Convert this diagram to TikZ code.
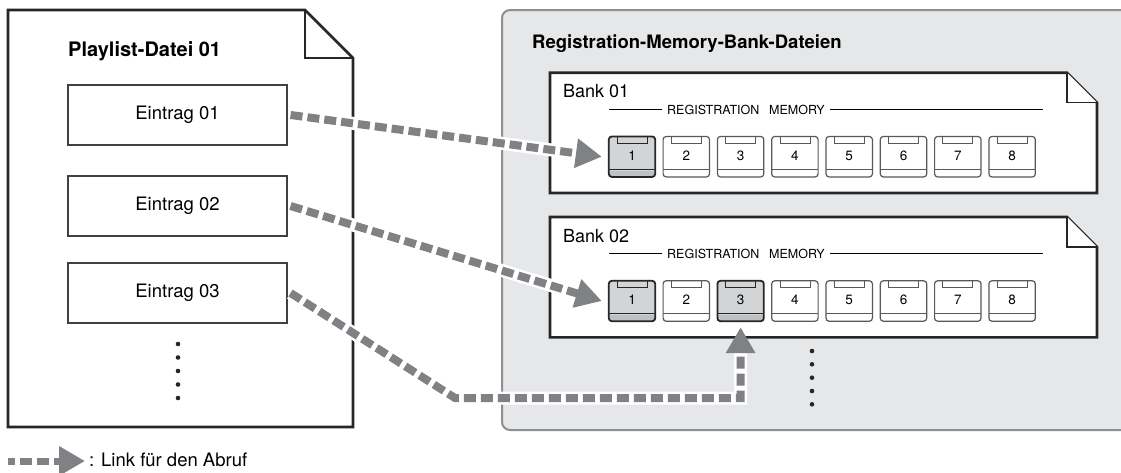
\documentclass[tikz,border=0pt]{standalone}
\usepackage{fontspec}
\setmainfont{TeX Gyre Heros}
\usetikzlibrary{arrows.meta,calc}
\definecolor{panelgray}{HTML}{E6E7E8}
\definecolor{panelborder}{HTML}{8E8F91}
\definecolor{selgray}{HTML}{D3D4D6}
\definecolor{selstrip}{HTML}{BFC0C2}
\definecolor{arrowgray}{HTML}{808184}
\newcommand\fsz[1]{\fontsize{#1pt}{#1pt}\selectfont}
\tikzset{
 docline/.style={line width=2.6pt, draw=black!85, line join=miter},
 foldline/.style={line width=1.2pt, draw=black!85},
 entrybox/.style={draw=black!75, line width=1.1pt, fill=white, minimum width=219pt, minimum height=60pt, font=\fsz{18.5}, inner sep=0pt},
 btn/.style={rectangle, rounded corners=3pt, minimum width=46pt, minimum height=40pt, inner sep=0pt},
 txt/.style={inner sep=0pt},
 linkhalo/.style={draw=white, line width=13pt},
 link/.style={draw=arrowgray, line width=8pt, dash pattern=on 12pt off 5pt, -{Triangle[length=26pt,width=28pt]}},
 dotmark/.style={fill=black!85},
}
\newcommand\regbtn[5]{%
  \ifnum#5=1 \def\bfill{selgray}\def\bstrip{selstrip}\def\bdraw{black!85}\def\blw{1.8pt}%
  \else \def\bfill{white}\def\bstrip{white}\def\bdraw{black!65}\def\blw{1.2pt}\fi
  \node[btn, fill=\bfill] (#1) at (#2,#3) {};
  \fill[\bstrip, rounded corners=3pt] (#1.south west) rectangle ([yshift=8pt]#1.south east);
  \fill[\bfill] ([yshift=6pt]#1.south west) rectangle ([yshift=8pt]#1.south east);
  \draw[\bdraw, line width=0.8pt] ([yshift=8pt]#1.south west) -- ([yshift=8pt]#1.south east);
  \draw[\bdraw, line width=0.8pt] ([xshift=-15pt]#1.north) rectangle ([xshift=15pt,yshift=-6.5pt]#1.north);
  \draw[\bdraw, line width=\blw, rounded corners=3pt] (#1.south west) rectangle (#1.north east);
  \node[txt, font=\fsz{13.5}] (#1n) at ([yshift=1pt]#1.center) {#4};
}
\begin{document}
\begin{tikzpicture}[x=1pt,y=-1pt]
\useasboundingbox (0,0) rectangle (1121,472);
% left document
\draw[docline, fill=white] (8,10) -- (305,10) -- (353,58) -- (353,427) -- (8,427) -- cycle;
\draw[foldline] (305,10) -- (305,58) -- (353,58);
\node[txt, anchor=base west, font=\bfseries\fsz{20}] (pt) at (68,56) {Playlist-Datei 01};
\node[entrybox] (e1) at (177.5,115) {Eintrag 01};
\node[entrybox] (e2) at (177.5,206) {Eintrag 02};
\node[entrybox] (e3) at (177.5,293) {Eintrag 03};
\foreach \y in {344,357.5,371,384.5,398} \fill[dotmark] (178,\y) circle (2.3);
% panel
\draw[draw=panelborder, fill=panelgray, line width=2pt, rounded corners=8pt] (502,10) rectangle (1140,430);
\node[txt, anchor=base west, font=\bfseries\fsz{18.5}] (ptitle) at (532,48) {Registration-Memory-Bank-Dateien};
% banks
\foreach \b/\off in {01/0,02/144.3}{
  \begin{scope}[yshift=-\off pt]
  \draw[docline, fill=white] (550,72.7) -- (1067,72.7) -- (1097,102.7) -- (1097,193) -- (550,193) -- cycle;
  \draw[foldline, fill=white] (1067,72.7) -- (1067,102.7) -- (1097,102.7);
  \node[txt, anchor=base west, font=\fsz{18}] (bank\b) at (563,97.7) {Bank \b};
  \node[txt, anchor=base, font=\fsz{12.5}] (rm\b) at (746,114.3) {REGISTRATION\,\,\, MEMORY};
  \draw[line width=0.9pt] (609,109.3) -- (662,109.3);
  \draw[line width=0.9pt] (830,109.3) -- (1043,109.3);
  \end{scope}
}
\foreach \i in {1,...,8}{
  \pgfmathsetmacro\cx{632+54.3*(\i-1)}
  \ifnum\i=1 \regbtn{ba\i}{\cx}{156.7}{\i}{1}\else\regbtn{ba\i}{\cx}{156.7}{\i}{0}\fi
  \ifnum\i=1 \regbtn{bb\i}{\cx}{301}{\i}{1}\else\ifnum\i=3 \regbtn{bb\i}{\cx}{301}{\i}{1}\else\regbtn{bb\i}{\cx}{301}{\i}{0}\fi\fi
}
\foreach \y in {351,364.3,377.7,391,404.3} \fill[dotmark] (812,\y) circle (2.3);
% links
\coordinate (k) at (455,398);
\draw[linkhalo, shorten >=22pt] ([xshift=3pt]e1.east) -- ([xshift=-7pt]ba1.west);
\draw[link] ([xshift=3pt]e1.east) -- ([xshift=-7pt]ba1.west);
\draw[linkhalo, shorten >=22pt] ([xshift=3pt]e2.east) -- ([xshift=-7pt]bb1.west);
\draw[link] ([xshift=3pt]e2.east) -- ([xshift=-7pt]bb1.west);
\draw[linkhalo, shorten >=22pt, line join=miter] ([xshift=3pt]e3.east) -- (k) -| ([yshift=-6pt]bb3.south);
\draw[link, line join=miter] ([xshift=3pt]e3.east) -- (k) -| ([yshift=-6pt]bb3.south);
% legend
\coordinate (l0) at (8,461);
\coordinate (l1) at (85,461);
\draw[link, line width=7pt, dash pattern=on 12pt off 5pt, dash phase=5pt] (l0) -- (l1);
\node[txt, anchor=base west, font=\fsz{18.5}] (lt) at (89,466) {: Link für den Abruf};
\end{tikzpicture}
\end{document}
